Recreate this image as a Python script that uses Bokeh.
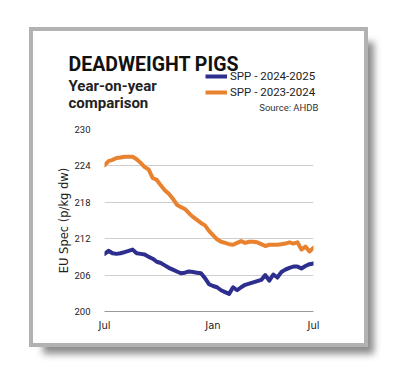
from bokeh.plotting import figure
from bokeh.layouts import column
from bokeh.models import Range1d, FixedTicker, Label, Legend, LegendItem
from bokeh.embed import file_html
from bokeh.resources import INLINE

# ---- data (weekly, July -> July) ----
weeks = list(range(53))
spp_2024_2025 = [209.5, 210.0, 209.6, 209.5, 209.6, 209.8, 210.0, 210.2, 209.6, 209.5,
                 209.4, 209.0, 208.7, 208.2, 208.0, 207.6, 207.2, 206.9, 206.6, 206.3,
                 206.4, 206.6, 206.5, 206.4, 206.3, 205.5, 204.5, 204.2, 204.0, 203.5,
                 203.2, 202.9, 204.0, 203.5, 204.0, 204.4, 204.6, 204.8, 205.0, 205.2,
                 206.0, 205.1, 206.1, 205.6, 206.5, 206.9, 207.2, 207.4, 207.4, 207.1,
                 207.5, 207.8, 207.9]
spp_2023_2024 = [224.1, 224.8, 225.0, 225.3, 225.4, 225.5, 225.5, 225.5, 225.1, 224.5,
                 223.8, 223.4, 222.0, 221.7, 220.8, 220.0, 219.4, 218.6, 217.6, 217.2,
                 216.9, 216.2, 215.6, 215.1, 214.6, 214.2, 213.3, 212.6, 211.9, 211.5,
                 211.3, 211.1, 211.0, 211.3, 211.6, 211.3, 211.5, 211.5, 211.4, 211.1,
                 210.8, 211.0, 211.0, 211.0, 211.1, 211.2, 211.4, 211.2, 211.4, 210.2,
                 210.7, 209.9, 210.5]
y_ticks = [200, 206, 212, 218, 224, 230]
x_tick_pos = [0, 27, 52]
x_tick_labels = ["Jul", "Jan", "Jul"]
series_names = ["SPP - 2024-2025", "SPP - 2023-2024"]
title_text = "DEADWEIGHT PIGS"
subtitle_lines = ["Year-on-year", "comparison"]
source_text = "Source: AHDB"
y_label = "EU Spec (p/kg dw)"

BLUE = "#2d2e8e"
ORANGE = "#e8822f"
W = 331
HEAD_H = 84
NAN = float("nan")

# ---------- header (title, subtitle, legend) ----------
h = figure(width=W, height=HEAD_H, output_backend="svg", toolbar_location=None,
           x_range=Range1d(0, W), y_range=Range1d(0, HEAD_H),
           x_axis_type=None, y_axis_type=None, frame_align=False,
           min_border_left=0, min_border_right=0, min_border_top=0, min_border_bottom=0)
h.outline_line_color = None
h.xgrid.visible = False
h.ygrid.visible = False
h.border_fill_color = "white"

h.add_layout(Label(x=35, y=51.5, text=title_text,
                   text_font="Roboto", text_font_style="bold", text_font_size="19.5px",
                   text_color="#111111", text_baseline="alphabetic"))
h.add_layout(Label(x=35, y=29.5, text=subtitle_lines[0],
                   text_font="Roboto", text_font_style="bold", text_font_size="15px",
                   text_color="#222222", text_baseline="alphabetic"))
h.add_layout(Label(x=35, y=13, text=subtitle_lines[1],
                   text_font="Roboto", text_font_style="bold", text_font_size="15px",
                   text_color="#222222", text_baseline="alphabetic"))
h.add_layout(Label(x=285, y=8.3, text=source_text,
                   text_font="Roboto", text_font_size="9.5px", text_align="right",
                   text_color="#333333", text_baseline="alphabetic"))

# legend keys (no visible data of their own)
k1 = h.line(x=[NAN], y=[NAN], line_color=BLUE, line_width=4)
k2 = h.line(x=[NAN], y=[NAN], line_color=ORANGE, line_width=4)
legend = Legend(items=[LegendItem(label=series_names[0], renderers=[k1]),
                       LegendItem(label=series_names[1], renderers=[k2])],
                location=(172, 16), orientation="vertical",
                padding=0, margin=0, spacing=2, glyph_width=22, glyph_height=12,
                label_height=12, label_standoff=3,
                label_text_font="Roboto", label_text_font_size="11.5px",
                label_text_color="#222222",
                border_line_color=None, background_fill_alpha=0)
h.add_layout(legend, "center")

# ---------- chart ----------
p = figure(width=W, height=228, output_backend="svg", toolbar_location=None,
           x_range=Range1d(0, 52), y_range=Range1d(200, 230), frame_align=False,
           min_border_left=71, min_border_right=51, min_border_top=14, min_border_bottom=32)
p.outline_line_color = None
p.background_fill_color = "white"
p.border_fill_color = "white"

p.line(weeks, spp_2024_2025, line_color=BLUE, line_width=4, line_cap="round", line_join="round")
p.line(weeks, spp_2023_2024, line_color=ORANGE, line_width=4, line_cap="round", line_join="round")

p.yaxis.ticker = FixedTicker(ticks=y_ticks)
p.yaxis.axis_line_color = None
p.yaxis.major_tick_line_color = None
p.yaxis.minor_tick_line_color = None
p.yaxis.major_label_standoff = 8
p.yaxis.major_label_text_font = "Roboto"
p.yaxis.major_label_text_font_size = "9.5px"
p.yaxis.major_label_text_color = "#222222"
p.yaxis.axis_label = y_label
p.yaxis.axis_label_text_font = "DejaVu Sans"
p.yaxis.axis_label_text_font_style = "normal"
p.yaxis.axis_label_text_font_size = "11.5px"
p.yaxis.axis_label_text_color = "#222222"
p.yaxis.axis_label_standoff = 0

p.xaxis.ticker = FixedTicker(ticks=x_tick_pos)
p.xaxis.major_label_overrides = {t: l for t, l in zip(x_tick_pos, x_tick_labels)}
p.xaxis.axis_line_color = "#999999"
p.xaxis.major_tick_line_color = None
p.xaxis.minor_tick_line_color = None
p.xaxis.major_label_standoff = 2
p.xaxis.major_label_text_font = "DejaVu Sans"
p.xaxis.major_label_text_font_size = "10px"
p.xaxis.major_label_text_color = "#222222"

p.xgrid.grid_line_color = None
p.ygrid.grid_line_color = "#cfcfcf"
p.ygrid.grid_line_width = 1

layout = column(h, p, spacing=0, margin=(31, 0, 0, 33),
                styles={"outline": "4px solid #b2b2b2",
                        "box-shadow": "10px 11px 7px rgba(0,0,0,0.45)",
                        "background": "white"})

open("out.html", "w").write(file_html(layout, INLINE))
